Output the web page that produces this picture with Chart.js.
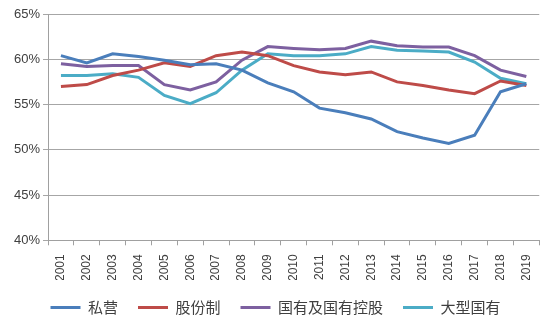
<!DOCTYPE html>
<html>
<head>
<meta charset="utf-8">
<script src="https://cdn.jsdelivr.net/npm/chart.js@4/dist/chart.umd.min.js"></script>
<style>
  html, body { margin: 0; padding: 0; background: #fff; }
  #wrap { width: 550px; height: 324px; }
</style>
</head>
<body>
<div id="wrap"><canvas id="myChart" width="550" height="324"></canvas></div>
<script>
// Años y series (%)
const years = ["2001","2002","2003","2004","2005","2006","2007","2008","2009","2010",
               "2011","2012","2013","2014","2015","2016","2017","2018","2019"];
const siying = [60.4, 59.6, 60.6, 60.3, 59.9, 59.4, 59.5, 58.8, 57.4, 56.4,
                54.6, 54.1, 53.4, 52.0, 51.3, 50.7, 51.6, 56.4, 57.3];
const gufenzhi = [57.0, 57.2, 58.2, 58.8, 59.6, 59.2, 60.4, 60.8, 60.4, 59.3,
                  58.6, 58.3, 58.6, 57.5, 57.1, 56.6, 56.2, 57.6, 57.1];
const guoyou = [59.5, 59.2, 59.3, 59.3, 57.2, 56.6, 57.5, 59.9, 61.4, 61.2,
                61.05, 61.2, 62.0, 61.5, 61.35, 61.35, 60.4, 58.8, 58.1];
const daxing = [58.2, 58.2, 58.4, 58.0, 56.0, 55.1, 56.3, 58.8, 60.6, 60.4,
                60.4, 60.6, 61.4, 61.0, 60.9, 60.8, 59.7, 57.9, 57.3];
const yTicks = [40, 45, 50, 55, 60, 65];

const serie = (label, data, color) => ({
    label,
    data,
    borderColor: color,
    backgroundColor: color,
    borderWidth: 3,
    pointRadius: 0,
    tension: 0
});

const config = {
    type: "line",
    data: {
        labels: years,
        datasets: [
            serie("私营", siying, "#4a7ebb"),
            serie("股份制", gufenzhi, "#be4b48"),
            serie("国有及国有控股", guoyou, "#7d60a0"),
            serie("大型国有", daxing, "#4bacc6")
        ]
    },
    options: {
        responsive: false,
        animation: false,
        layout: { padding: { top: 14, right: 10, left: 11, bottom: -1 } },
        plugins: {
            legend: {
                position: "bottom",
                labels: {
                    usePointStyle: true,
                    pointStyle: "line",
                    pointStyleWidth: 30,
                    padding: 20,
                    color: "#404040",
                    font: { family: "'Noto Sans CJK SC', sans-serif", size: 15 }
                }
            },
            tooltip: { enabled: false }
        },
        scales: {
            x: {
                offset: true,
                // las etiquetas pueden invadir el hueco superior de la leyenda
                afterFit: (scale) => { scale.height -= 10; },
                grid: {
                    offset: true,
                    drawOnChartArea: false,
                    drawTicks: true,
                    tickLength: 5,
                    color: "#a0a0a0"
                },
                border: { color: "#a0a0a0" },
                ticks: {
                    minRotation: 90,
                    maxRotation: 90,
                    padding: 9,
                    color: "#404040",
                    font: { family: "'Liberation Sans', Arial, sans-serif", size: 12 }
                }
            },
            y: {
                min: 40,
                max: 65,
                afterBuildTicks: (axis) => { axis.ticks = yTicks.map(v => ({ value: v })); },
                grid: { color: "#a6a6a6", tickLength: 5 },
                border: { color: "#a0a0a0" },
                ticks: {
                    color: "#404040",
                    font: { family: "'Liberation Sans', Arial, sans-serif", size: 13 },
                    callback: (v) => v + "%"
                }
            }
        }
    }
};

new Chart(document.querySelector("#myChart"), config);
</script>
</body>
</html>
